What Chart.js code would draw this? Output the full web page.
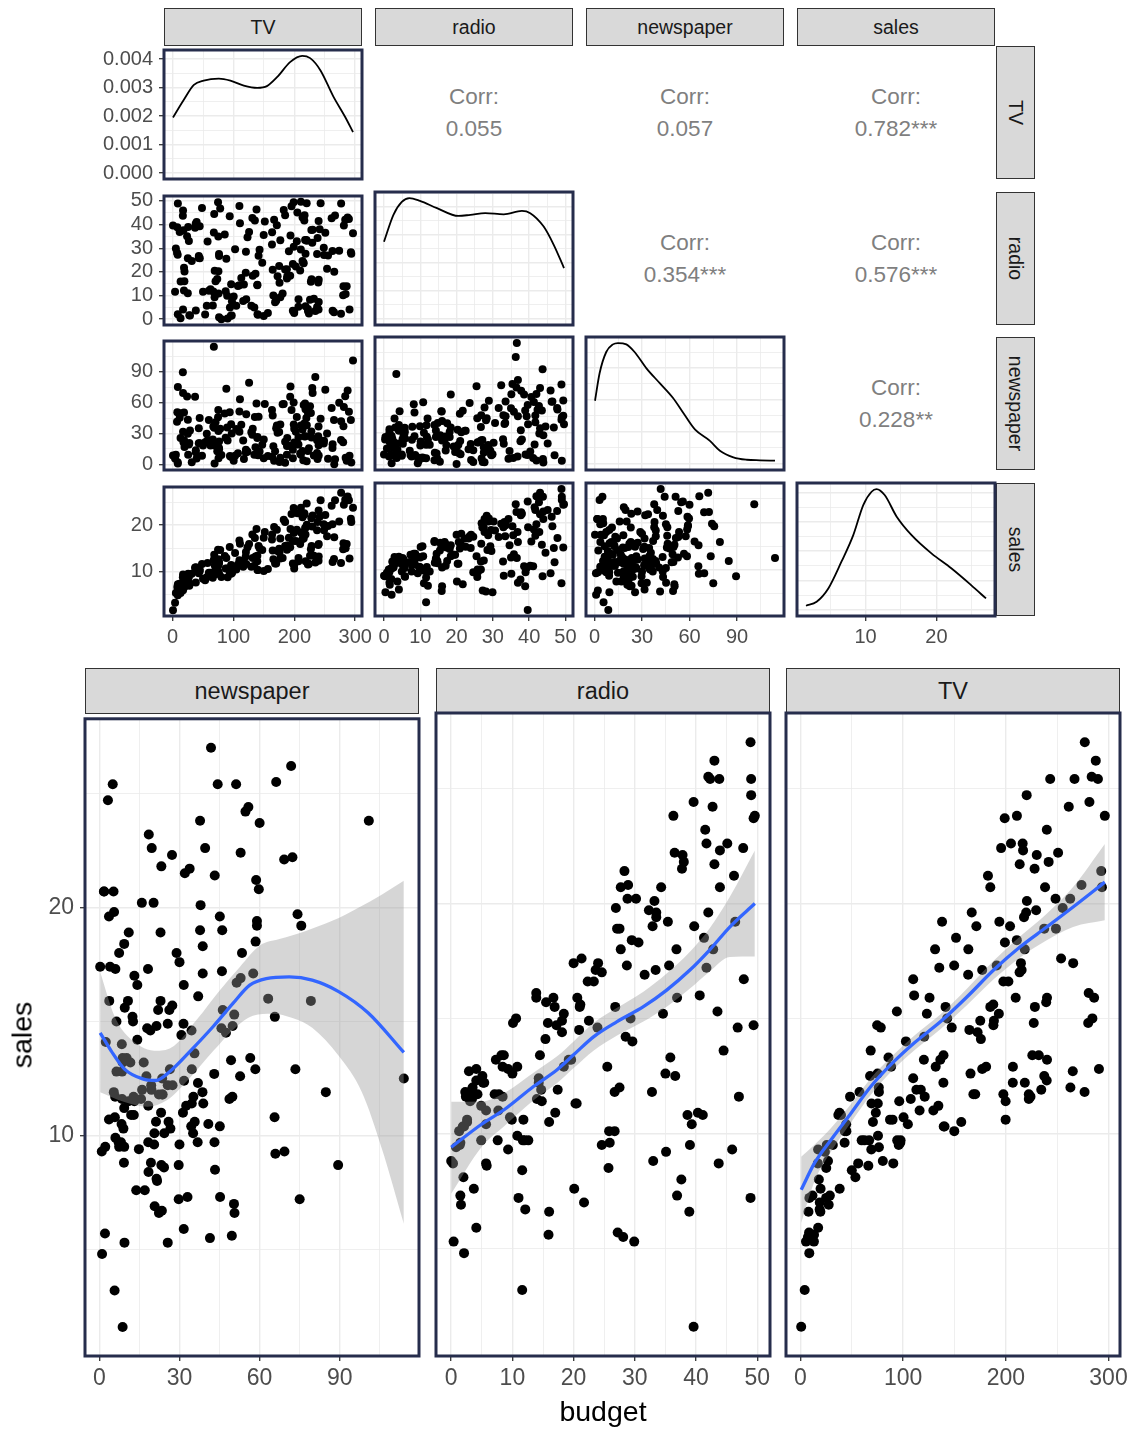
<!DOCTYPE html>
<html>
<head>
<meta charset="utf-8">
<title>Advertising: pairs and budget facets</title>
<script src="https://cdn.jsdelivr.net/npm/chart.js@4.4.1/dist/chart.umd.min.js"></script>
<style>
  body { margin: 0; background: #fff; }
  #page { position: relative; width: 1135px; height: 1429px; overflow: hidden; font-family: "Liberation Sans", Arial, sans-serif; }
  #page canvas { position: absolute; }
  .strip { position: absolute; box-sizing: border-box; background: #d9d9d9; border: 1px solid #333; color: #1a1a1a;
           display: flex; align-items: center; justify-content: center; white-space: nowrap; }
  .strip.side span { display: inline-block; transform: rotate(90deg); }
  .corr { position: absolute; width: 198px; text-align: center; color: #7f7f7f; font-size: 22.5px; line-height: 32px; }
  .title { position: absolute; color: #000; font-size: 28.5px; white-space: nowrap; }
</style>
</head>
<body>
<div id="page"></div>
<script>
// Advertising data, 200 markets (rows of 10)
const tv = [
  230.1, 44.5, 17.2, 151.5, 180.8, 8.7, 57.5, 120.2, 8.6, 199.8,
  66.1, 214.7, 23.8, 97.5, 204.1, 195.4, 67.8, 281.4, 69.2, 147.3,
  218.4, 237.4, 13.2, 228.3, 62.3, 262.9, 142.9, 240.1, 248.8, 70.6,
  292.9, 112.9, 97.2, 265.6, 95.7, 290.7, 266.9, 74.7, 43.1, 228,
  202.5, 177, 293.6, 206.9, 25.1, 175.1, 89.7, 239.9, 227.2, 66.9,
  199.8, 100.4, 216.4, 182.6, 262.7, 198.9, 7.3, 136.2, 210.8, 210.7,
  53.5, 261.3, 239.3, 102.7, 131.1, 69, 31.5, 139.3, 237.4, 216.8,
  199.1, 109.8, 26.8, 129.4, 213.4, 16.9, 27.5, 120.5, 5.4, 116,
  76.4, 239.8, 75.3, 68.4, 213.5, 193.2, 76.3, 110.7, 88.3, 109.8,
  134.3, 28.6, 217.7, 250.9, 107.4, 163.3, 197.6, 184.9, 289.7, 135.2,
  222.4, 296.4, 280.2, 187.9, 238.2, 137.9, 25, 90.4, 13.1, 255.4,
  225.8, 241.7, 175.7, 209.6, 78.2, 75.1, 139.2, 76.4, 125.7, 19.4,
  141.3, 18.8, 224, 123.1, 229.5, 87.2, 7.8, 80.2, 220.3, 59.6,
  0.7, 265.2, 8.4, 219.8, 36.9, 48.3, 25.6, 273.7, 43, 184.9,
  73.4, 193.7, 220.5, 104.6, 96.2, 140.3, 240.1, 243.2, 38, 44.7,
  280.7, 121, 197.6, 171.3, 187.8, 4.1, 93.9, 149.8, 11.7, 131.7,
  172.5, 85.7, 188.4, 163.5, 117.2, 234.5, 17.9, 206.8, 215.4, 284.3,
  50, 164.5, 19.6, 168.4, 222.4, 276.9, 248.4, 170.2, 276.7, 165.6,
  156.6, 218.5, 56.2, 287.6, 253.8, 205, 139.5, 191.1, 286, 18.7,
  39.5, 75.5, 17.2, 166.8, 149.7, 38.2, 94.2, 177, 283.6, 232.1
];
const radio = [
  37.8, 39.3, 45.9, 41.3, 10.8, 48.9, 32.8, 19.6, 2.1, 2.6,
  5.8, 24, 35.1, 7.6, 32.9, 47.7, 36.6, 39.6, 20.5, 23.9,
  27.7, 5.1, 15.9, 16.9, 12.6, 3.5, 29.3, 16.7, 27.1, 16,
  28.3, 17.4, 1.5, 20, 1.4, 4.1, 43.8, 49.4, 26.7, 37.7,
  22.3, 33.4, 27.7, 8.4, 25.7, 22.5, 9.9, 41.5, 15.8, 11.7,
  3.1, 9.6, 41.7, 46.2, 28.8, 49.4, 28.1, 19.2, 49.6, 29.5,
  2, 42.7, 15.5, 29.6, 42.8, 9.3, 24.6, 14.5, 27.5, 43.9,
  30.6, 14.3, 33, 5.7, 24.6, 43.7, 1.6, 28.5, 29.9, 7.7,
  26.7, 4.1, 20.3, 44.5, 43, 18.4, 27.5, 40.6, 25.5, 47.8,
  4.9, 1.5, 33.5, 36.5, 14, 31.6, 3.5, 21, 42.3, 41.7,
  4.3, 36.3, 10.1, 17.2, 34.3, 46.4, 11, 0.3, 0.4, 26.9,
  8.2, 38, 15.4, 20.6, 46.8, 35, 14.3, 0.8, 36.9, 16,
  26.8, 21.7, 2.4, 34.6, 32.3, 11.8, 38.9, 0, 49, 12,
  39.6, 2.9, 27.2, 33.5, 38.6, 47, 39, 28.9, 25.9, 43.9,
  17, 35.4, 33.2, 5.7, 14.8, 1.9, 7.3, 49, 40.3, 25.8,
  13.9, 8.4, 23.3, 39.7, 21.1, 11.6, 43.5, 1.3, 36.9, 18.4,
  18.1, 35.8, 18.1, 36.8, 14.7, 3.4, 37.6, 5.2, 23.6, 10.6,
  11.6, 20.9, 20.1, 7.1, 3.4, 48.9, 30.2, 7.8, 2.3, 10,
  2.6, 5.4, 5.7, 43, 21.3, 45.1, 2.1, 28.7, 13.9, 12.1,
  41.1, 10.8, 4.1, 42, 35.6, 3.7, 4.9, 9.3, 42, 8.6
];
const newspaper = [
  69.2, 45.1, 69.3, 58.5, 58.4, 75, 23.5, 11.6, 1, 21.2,
  24.2, 4, 65.9, 7.2, 46, 52.9, 114, 55.8, 18.3, 19.1,
  53.4, 23.5, 49.6, 26.2, 18.3, 19.5, 12.6, 22.9, 22.9, 40.8,
  43.2, 38.6, 30, 0.3, 7.4, 8.5, 5, 45.7, 35.1, 32,
  31.6, 38.7, 1.8, 26.4, 43.3, 31.5, 35.7, 18.5, 49.9, 36.8,
  34.6, 3.6, 39.6, 58.7, 15.9, 60, 41.4, 16.6, 37.7, 9.3,
  21.4, 54.7, 27.3, 8.4, 28.9, 0.9, 2.2, 10.2, 11, 27.2,
  38.7, 31.7, 19.3, 31.3, 13.1, 89.4, 20.7, 14.2, 9.4, 23.1,
  22.3, 36.9, 32.5, 35.6, 33.8, 65.7, 16, 63.2, 73.4, 51.4,
  9.3, 33, 59, 72.3, 10.9, 52.9, 5.9, 22, 51.2, 45.9,
  49.8, 100.9, 21.4, 17.9, 5.3, 59, 29.7, 23.2, 25.6, 5.5,
  56.5, 23.2, 2.4, 10.7, 34.5, 52.7, 25.6, 14.8, 79.2, 22.3,
  46.2, 50.4, 15.6, 12.4, 74.2, 25.9, 50.6, 9.2, 3.2, 43.1,
  8.7, 43, 2.1, 45.1, 65.6, 8.5, 9.3, 59.7, 20.5, 1.7,
  12.9, 75.6, 37.9, 34.4, 38.9, 9, 8.7, 44.3, 11.9, 20.6,
  37, 48.7, 14.2, 37.7, 9.5, 5.7, 50.5, 24.3, 45.2, 34.6,
  30.7, 49.3, 25.6, 7.4, 5.4, 84.8, 21.6, 19.4, 57.6, 6.4,
  18.4, 47.4, 17, 12.8, 13.1, 41.8, 20.3, 35.2, 23.7, 17.6,
  8.3, 27.4, 29.7, 71.8, 30, 19.6, 26.6, 18.2, 3.7, 23.4,
  5.8, 6, 31.6, 3.6, 6, 13.8, 8.1, 6.4, 66.2, 8.7
];
const sales = [
  22.1, 10.4, 9.3, 18.5, 12.9, 7.2, 11.8, 13.2, 4.8, 10.6,
  8.6, 17.4, 9.2, 9.7, 19, 22.4, 12.5, 24.4, 11.3, 14.6,
  18, 12.5, 5.6, 15.5, 9.7, 12, 15, 15.9, 18.9, 10.5,
  21.4, 11.9, 9.6, 17.4, 9.5, 12.8, 25.4, 14.7, 10.1, 21.5,
  16.6, 17.1, 20.7, 12.9, 8.5, 14.9, 10.6, 23.2, 14.8, 9.7,
  11.4, 10.7, 22.6, 21.2, 20.2, 23.7, 5.5, 13.2, 23.8, 18.4,
  8.1, 24.2, 15.7, 14, 18, 9.3, 9.5, 13.4, 18.9, 22.3,
  18.3, 12.4, 8.8, 11, 17, 8.7, 6.9, 14.2, 5.3, 11,
  11.8, 12.3, 11.3, 13.6, 21.7, 15.2, 12, 16, 12.9, 16.7,
  11.2, 7.3, 19.4, 22.2, 11.5, 16.9, 11.7, 15.5, 25.4, 17.2,
  11.7, 23.8, 14.8, 14.7, 20.7, 19.2, 7.2, 8.7, 5.3, 19.8,
  13.4, 21.8, 14.1, 15.9, 14.6, 12.6, 12.2, 9.4, 15.9, 6.6,
  15.5, 7, 11.6, 15.2, 19.7, 10.6, 6.6, 8.8, 24.7, 9.7,
  1.6, 12.7, 5.7, 19.6, 10.8, 11.6, 9.5, 20.8, 9.6, 20.7,
  10.9, 19.2, 20.1, 10.4, 11.4, 10.3, 13.2, 25.4, 10.9, 10.1,
  16.1, 11.6, 16.6, 19, 15.6, 3.2, 15.3, 10.1, 7.3, 12.9,
  14.4, 13.3, 14.9, 18, 11.9, 11.9, 8, 12.2, 17.1, 15,
  8.4, 14.5, 7.6, 11.7, 11.5, 27, 20.2, 11.7, 11.8, 12.6,
  10.5, 12.2, 8.7, 26.2, 17.6, 22.6, 10.3, 17.3, 15.9, 6.7,
  10.8, 9.9, 5.9, 19.6, 17.3, 7.6, 9.7, 12.8, 25.5, 13.4
];

// density curves on the diagonal
const tvDensX = [0.7, 18.5, 35, 51, 76, 95, 117, 139, 155, 172, 193, 213, 226, 243, 264, 284, 296.4];
const tvDensY = [0.00195, 0.00257, 0.00309, 0.00324, 0.00331, 0.00324, 0.00307, 0.00299, 0.00305, 0.00337, 0.00389, 0.00411, 0.00403, 0.0036, 0.00269, 0.00195, 0.00144];
const radioDensX = [0, 2.6, 4.9, 7.0, 9.9, 14.6, 20.5, 23.8, 27.9, 33, 38, 40.3, 44, 46.8, 49.6];
const radioDensY = [0.0138, 0.0186, 0.0209, 0.0216, 0.0211, 0.0198, 0.0184, 0.0186, 0.0189, 0.0187, 0.0193, 0.0189, 0.0165, 0.0132, 0.0091];
const newsDensX = [0.3, 3.2, 7.4, 11.6, 14.8, 20.1, 25.3, 32.8, 41.2, 49.6, 56, 63.4, 72.9, 79.2, 87.7, 96.2, 104.6, 114];
const newsDensY = [0.00988, 0.01418, 0.0175, 0.01869, 0.0189, 0.01869, 0.0175, 0.01495, 0.01263, 0.0103, 0.008, 0.0054, 0.00361, 0.00206, 0.00104, 0.00066, 0.00057, 0.00051];
const salesDensX = [1.6, 3.1, 4.75, 6.6, 8.27, 9.68, 10.85, 11.55, 12.7, 14.4, 16.5, 19.3, 22.1, 24.9, 27.0];
const salesDensY = [0.0036, 0.007, 0.0183, 0.041, 0.0636, 0.0892, 0.1005, 0.1028, 0.0977, 0.0793, 0.0636, 0.0481, 0.0354, 0.0211, 0.0098];

// loess fits and their bands in the bottom facets
const newsFitX = [0.3, 4.4, 9.4, 16.2, 21.1, 26.7, 34.1, 42.7, 50.1, 56.3, 62.5, 71.1, 79.7, 89.6, 100.7, 114];
const newsFitY = [14.5, 13.71, 12.91, 12.48, 12.41, 12.84, 13.71, 14.79, 15.8, 16.59, 16.88, 16.95, 16.81, 16.31, 15.37, 13.64];
const newsHiX = [0.3, 5.7, 11.9, 21.7, 27.9, 36.5, 45.2, 52.6, 60, 67.4, 77.3, 87.2, 97, 105.7, 114];
const newsHiY = [17.17, 15.22, 14.21, 13.71, 13.92, 15.08, 16.38, 17.39, 18.32, 18.61, 18.97, 19.41, 19.99, 20.56, 21.17];
const newsLoX = [0.3, 9.4, 18, 25.4, 34.1, 42.7, 50.1, 57.5, 64.9, 72.3, 79.7, 89.6, 98.3, 105.7, 114];
const newsLoY = [11.9, 11.47, 11.26, 11.55, 12.55, 13.71, 14.64, 15.25, 15.34, 15.15, 14.72, 13.49, 11.9, 9.45, 6.13];

const radioFitX = [0, 4.9, 8.7, 13.5, 17.3, 20, 23.3, 27.1, 31.4, 35.2, 39, 42.2, 45.5, 49.6];
const radioFitY = [9.4, 10.39, 11.04, 12.05, 12.77, 13.42, 14.21, 14.86, 15.51, 16.23, 17.1, 17.97, 18.97, 19.99];
const radioHiY = [11.38, 11.39, 11.76, 12.65, 13.35, 14.0, 14.81, 15.46, 16.16, 16.95, 17.9, 18.91, 20.27, 22.29];
const radioLoY = [7.38, 9.39, 10.32, 11.45, 12.19, 12.84, 13.61, 14.26, 14.86, 15.51, 16.3, 17.03, 17.67, 17.69];

const tvFitX = [0.7, 13.9, 30, 49.4, 68.7, 88, 110.7, 136.5, 162.3, 188.1, 214, 239.8, 265.5, 296.4];
const tvFitY = [7.55, 8.73, 9.74, 10.89, 12.05, 12.99, 13.93, 14.86, 15.94, 17.1, 18.11, 18.97, 19.84, 20.92];
const tvHiY = [8.99, 9.52, 10.25, 11.29, 12.41, 13.31, 14.25, 15.18, 16.3, 17.5, 18.57, 19.55, 20.71, 22.58];
const tvLoY = [6.11, 7.94, 9.23, 10.49, 11.69, 12.67, 13.61, 14.54, 15.58, 16.7, 17.65, 18.39, 18.97, 19.26];

// labels
const varNames = ['TV', 'radio', 'newspaper', 'sales'];
const facetNames = ['newspaper', 'radio', 'TV'];
// [row, col, text]
const corrCells = [
  [0, 1, '0.055'], [0, 2, '0.057'], [0, 3, '0.782***'],
  [1, 2, '0.354***'], [1, 3, '0.576***'],
  [2, 3, '0.228**']
];

// axis ticks
const tvTicks = [0, 100, 200, 300], tvMinor = [50, 150, 250];
const radioTicks = [0, 10, 20, 30, 40, 50], radioMinor = [5, 15, 25, 35, 45];
const newsTicks = [0, 30, 60, 90], newsMinor = [15, 45, 75, 105];
const salesTicks = [10, 20], salesMinor = [5, 15, 25];

Chart.defaults.font.family = '"Liberation Sans", Arial, sans-serif';

const page = document.getElementById('page');
const PADL = 90, PADR = 30, PADT = 14;

const axTV = { min: -14.085, max: 311.185, major: tvTicks, minor: tvMinor };
const axRadio = { min: -2.48, max: 52.08, major: radioTicks, minor: radioMinor };
const axNews = { min: -5.385, max: 119.685, major: newsTicks, minor: newsMinor };
const axSales = { min: 0.33, max: 28.27, major: salesTicks, minor: salesMinor };
const varAxes = [axTV, axRadio, axNews, axSales];

// own y scales of the density panels
const densAxes = [
  { min: -0.0002055, max: 0.0043155, major: [0, 0.001, 0.002, 0.003, 0.004], minor: [0.0005, 0.0015, 0.0025, 0.0035], fmt: v => v.toFixed(3) },
  { min: -0.00108, max: 0.02268, major: [0, 0.005, 0.01, 0.015, 0.02], minor: [0.0025, 0.0075, 0.0125, 0.0175, 0.0225] },
  { min: -0.000945, max: 0.019845, major: [0, 0.005, 0.01, 0.015], minor: [0.0025, 0.0075, 0.0125, 0.0175] },
  { min: -0.00514, max: 0.10794, major: [0, 0.025, 0.05, 0.075, 0.1], minor: [0.0125, 0.0375, 0.0625, 0.0875] }
];
const vars = [tv, radio, newspaper, sales];
const dens = [[tvDensX, tvDensY], [radioDensX, radioDensY], [newsDensX, newsDensY], [salesDensX, salesDensY]];

const pts = (xs, ys) => xs.map((x, i) => ({ x: x, y: ys[i] }));

function scatterSet(xs, ys, r) {
  return { type: 'scatter', data: pts(xs, ys), showLine: false, pointRadius: r, pointHoverRadius: r,
           pointBackgroundColor: '#000', pointBorderWidth: 0, order: 2 };
}
function curveSet(xs, ys, color, width) {
  return { type: 'line', data: pts(xs, ys), borderColor: color, borderWidth: width, pointRadius: 0,
           cubicInterpolationMode: 'monotone', fill: false, order: 0 };
}
function bandSets(hx, hy, lx, ly) {
  return [
    { type: 'line', data: pts(hx, hy), borderColor: 'rgba(0,0,0,0)', borderWidth: 0, pointRadius: 0,
      cubicInterpolationMode: 'monotone', fill: '+1', backgroundColor: 'rgba(153,153,153,0.4)', order: 1 },
    { type: 'line', data: pts(lx, ly), borderColor: 'rgba(0,0,0,0)', borderWidth: 0, pointRadius: 0,
      cubicInterpolationMode: 'monotone', fill: false, order: 1 }
  ];
}

function axis(def, show, fontSize, size, horizontal) {
  const all = def.major.concat(def.minor).sort((a, b) => a - b);
  const isMajor = v => def.major.indexOf(v) >= 0;
  return {
    type: 'linear',
    min: def.min,
    max: def.max,
    afterBuildTicks: s => { s.ticks = all.map(v => ({ value: v })); },
    afterFit: s => { if (horizontal) s.height = size; else s.width = size; },
    border: { display: false },
    grid: {
      color: '#ebebeb',
      lineWidth: c => (c.tick && isMajor(c.tick.value)) ? 1.4 : 0.8,
      drawTicks: show,
      tickLength: 5,
      tickWidth: 1.3,
      tickColor: c => (c.tick && isMajor(c.tick.value)) ? '#333333' : 'rgba(0,0,0,0)'
    },
    ticks: {
      display: show,
      autoSkip: false,
      maxRotation: 0,
      padding: horizontal ? 4 : 6,
      color: '#4d4d4d',
      font: { size: fontSize },
      callback: v => isMajor(v) ? (def.fmt ? def.fmt(v) : String(v)) : ''
    }
  };
}

// dark border round each panel
const panelFrame = {
  id: 'panelFrame',
  afterDraw(chart) {
    const a = chart.chartArea, ctx = chart.ctx;
    ctx.save();
    ctx.strokeStyle = '#262d4c';
    ctx.lineWidth = 3;
    ctx.strokeRect(a.left, a.top, a.right - a.left, a.bottom - a.top);
    ctx.restore();
  }
};

function makePanel(p) {
  const W = p.w + PADL + PADR, H = p.h + PADT + p.padB;
  const cv = document.createElement('canvas');
  cv.width = W; cv.height = H;
  cv.style.left = (p.left - PADL) + 'px';
  cv.style.top = (p.top - PADT) + 'px';
  cv.style.width = W + 'px';
  cv.style.height = H + 'px';
  page.appendChild(cv);
  new Chart(cv, {
    type: 'scatter',
    data: { datasets: p.datasets },
    options: {
      responsive: false,
      animation: false,
      devicePixelRatio: 1,
      events: [],
      layout: { padding: { left: 0, right: PADR, top: PADT, bottom: 0 } },
      plugins: { legend: { display: false }, tooltip: { enabled: false } },
      scales: {
        x: axis(p.x, p.showX, p.fs, p.padB, true),
        y: axis(p.y, p.showY, p.fs, PADL, false)
      }
    },
    plugins: [panelFrame]
  });
}

function addStrip(text, left, top, w, h, fs, side) {
  const d = document.createElement('div');
  d.className = side ? 'strip side' : 'strip';
  d.style.left = left + 'px'; d.style.top = top + 'px';
  d.style.width = w + 'px'; d.style.height = h + 'px';
  d.style.fontSize = fs + 'px';
  const s = document.createElement('span');
  s.textContent = text;
  d.appendChild(s);
  page.appendChild(d);
}

// ---------- pairs matrix ----------
const colX = [164, 375, 586, 797];
const rowY = [46, 192, 337, 483];
const cellW = 198, cellH = 133;

varNames.forEach((n, i) => {
  addStrip(n, colX[i], 8, cellW, 38, 19.5, false);
  addStrip(n, 996, rowY[i], 39, cellH, 19.5, true);
});

corrCells.forEach(([r, c, txt]) => {
  const d = document.createElement('div');
  d.className = 'corr';
  d.style.left = colX[c] + 'px';
  d.style.top = (rowY[r] + 35) + 'px';
  d.innerHTML = 'Corr:<br>' + txt;
  page.appendChild(d);
});

for (let r = 0; r < 4; r++) {
  for (let c = 0; c <= r; c++) {
    const diag = r === c;
    makePanel({
      left: colX[c], top: rowY[r], w: cellW, h: cellH, padB: 36, fs: 20,
      x: varAxes[c],
      y: diag ? densAxes[c] : varAxes[r],
      showX: r === 3,
      showY: c === 0,
      datasets: diag
        ? [curveSet(dens[c][0], dens[c][1], '#000', 1.8)]
        : [scatterSet(vars[c], vars[r], 4)]
    });
  }
}

// ---------- sales vs budget facets ----------
const facetX = [85, 436, 786];
const facetTop = 713, facetW = 334, facetH = 643;
const facetData = [
  { xs: newspaper, ax: axNews, fit: [newsFitX, newsFitY], band: [newsHiX, newsHiY, newsLoX, newsLoY] },
  { xs: radio, ax: axRadio, fit: [radioFitX, radioFitY], band: [radioFitX, radioHiY, radioFitX, radioLoY] },
  { xs: tv, ax: axTV, fit: [tvFitX, tvFitY], band: [tvFitX, tvHiY, tvFitX, tvLoY] }
];

facetNames.forEach((n, i) => addStrip(n, facetX[i], 668, facetW, 46, 23.5, false));

facetData.forEach((f, i) => {
  makePanel({
    left: facetX[i], top: facetTop, w: facetW, h: facetH, padB: 50, fs: 23,
    x: f.ax, y: axSales, showX: true, showY: i === 0,
    datasets: [
      curveSet(f.fit[0], f.fit[1], '#3366ff', 3.3),
      ...bandSets(f.band[0], f.band[1], f.band[2], f.band[3]),
      scatterSet(f.xs, sales, 5)
    ]
  });
});

const yTitle = document.createElement('div');
yTitle.className = 'title';
yTitle.textContent = 'sales';
yTitle.style.left = '22px'; yTitle.style.top = '1035px';
yTitle.style.transform = 'translate(-50%, -50%) rotate(-90deg)';
page.appendChild(yTitle);

const xTitle = document.createElement('div');
xTitle.className = 'title';
xTitle.textContent = 'budget';
xTitle.style.left = '603px'; xTitle.style.top = '1411px';
xTitle.style.transform = 'translate(-50%, -50%)';
page.appendChild(xTitle);
</script>
</body>
</html>
